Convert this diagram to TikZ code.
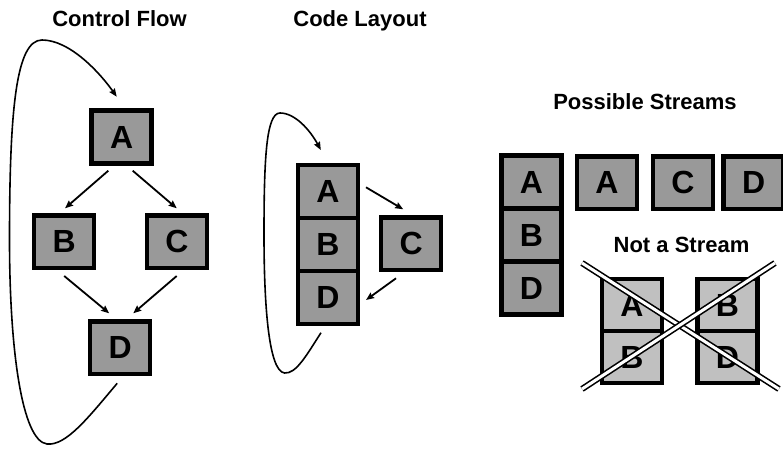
\documentclass[tikz,border=0pt]{standalone}
\usepackage{fontspec}
\setmainfont{Liberation Sans}
\usetikzlibrary{calc,arrows.meta}
\definecolor{boxgray}{RGB}{153,153,153}
\definecolor{lightgray}{RGB}{192,192,192}
\begin{document}
\begin{tikzpicture}[x=1pt,y=-1pt,
  blk/.style={draw=black, line width=4.5pt, fill=boxgray, minimum width=60pt,
    minimum height=52.5pt, inner sep=0pt, text=black,
    font=\fontsize{32}{32}\selectfont\bfseries},
  cell/.style={blk, minimum height=53pt},
  lcell/.style={blk, fill=lightgray, minimum height=52pt},
  title/.style={anchor=base, inner sep=0pt, font=\fontsize{22}{22}\selectfont\bfseries},
  arr/.style={line width=1.8pt, -{Stealth[length=8pt,width=6.5pt,inset=1pt]}},
  loop/.style={line width=1.6pt, -{Stealth[length=8pt,width=6.5pt,inset=1pt]}},
  cross/.style={double=white, double distance=3pt, line width=1.6pt, draw=black}
]
\useasboundingbox (0,0) rectangle (783,449);

% ---------- Control Flow ----------
\node[title] (t1) at (119.5,26.7) {Control Flow};
\node[blk] (A) at (121.7,137) {A};
\node[blk] (B) at (64.2,241.8) {B};
\node[blk] (C) at (177,241.8) {C};
\node[blk] (D) at (120.2,347.8) {D};
\draw[arr] ($(A)+(-13.4,33.7)$) -- ($(B)+(0.8,-33.5)$);
\draw[arr] ($(A)+(11,33.7)$) -- ($(C)+(-0.3,-33.5)$);
\draw[arr] ($(B)+(0,34.2)$) -- ($(D)+(-11,-34.5)$);
\draw[arr] ($(C)+(-0.3,34.2)$) -- ($(D)+(13,-34.5)$);
\draw[loop] ($(D)+(-3,35.5)$)
  .. controls (88,418) and (66,446) .. (47,444)
  .. controls (22,441) and (9.5,350) .. (9.5,240)
  .. controls (9.5,110) and (16,40) .. (42,40)
  .. controls (70,40) and (100,73) .. ($(A)+(-5,-40.3)$);

% ---------- Code Layout ----------
\node[title] (t2) at (360,26.7) {Code Layout};
\node[cell] (LA) at (327.8,191.5) {A};
\node[cell] (LB) at (327.8,244.5) {B};
\node[cell] (LD) at (327.8,297.5) {D};
\node[blk] (LC) at (411.2,243.7) {C};
\draw[arr] ($(LA)+(38.2,-4.2)$) -- ($(LC)+(-8,-34.4)$);
\draw[arr] ($(LC)+(-15.2,34.6)$) -- ($(LD)+(38.2,2.5)$);
\draw[loop] ($(LD)+(-6.8,35.2)$)
  .. controls (306,356) and (296,374) .. (284.5,373)
  .. controls (268,371) and (264,300) .. (264,235)
  .. controls (264,160) and (266,113) .. (280,113)
  .. controls (295,113) and (310,130) .. ($(LA)+(-7,-41.5)$);

% ---------- Possible Streams ----------
\node[title] (t3) at (645,110) {Possible Streams};
\node[cell] (SA) at (531.5,182.1) {A};
\node[cell] (SB) at (531.5,235.1) {B};
\node[cell] (SD) at (531.5,288.1) {D};
\node[blk] (PA) at (607,182.5) {A};
\node[blk] (PC) at (683,182.5) {C};
\node[blk] (PD) at (753.7,182.5) {D};

% ---------- Not a Stream ----------
\node[title] (t4) at (681.5,252) {Not a Stream};
\node[lcell] (NA) at (632,305) {A};
\node[lcell] (NB) at (632,357) {B};
\node[lcell] (NB2) at (727.5,305) {B};
\node[lcell] (ND) at (727.5,357) {D};
\coordinate (x1) at (582,263);
\coordinate (x2) at (779,389);
\coordinate (x3) at (582,389);
\coordinate (x4) at (775,263);
\draw[cross] (x1) -- (x2);
\draw[cross] (x3) -- (x4);
\end{tikzpicture}
\end{document}
